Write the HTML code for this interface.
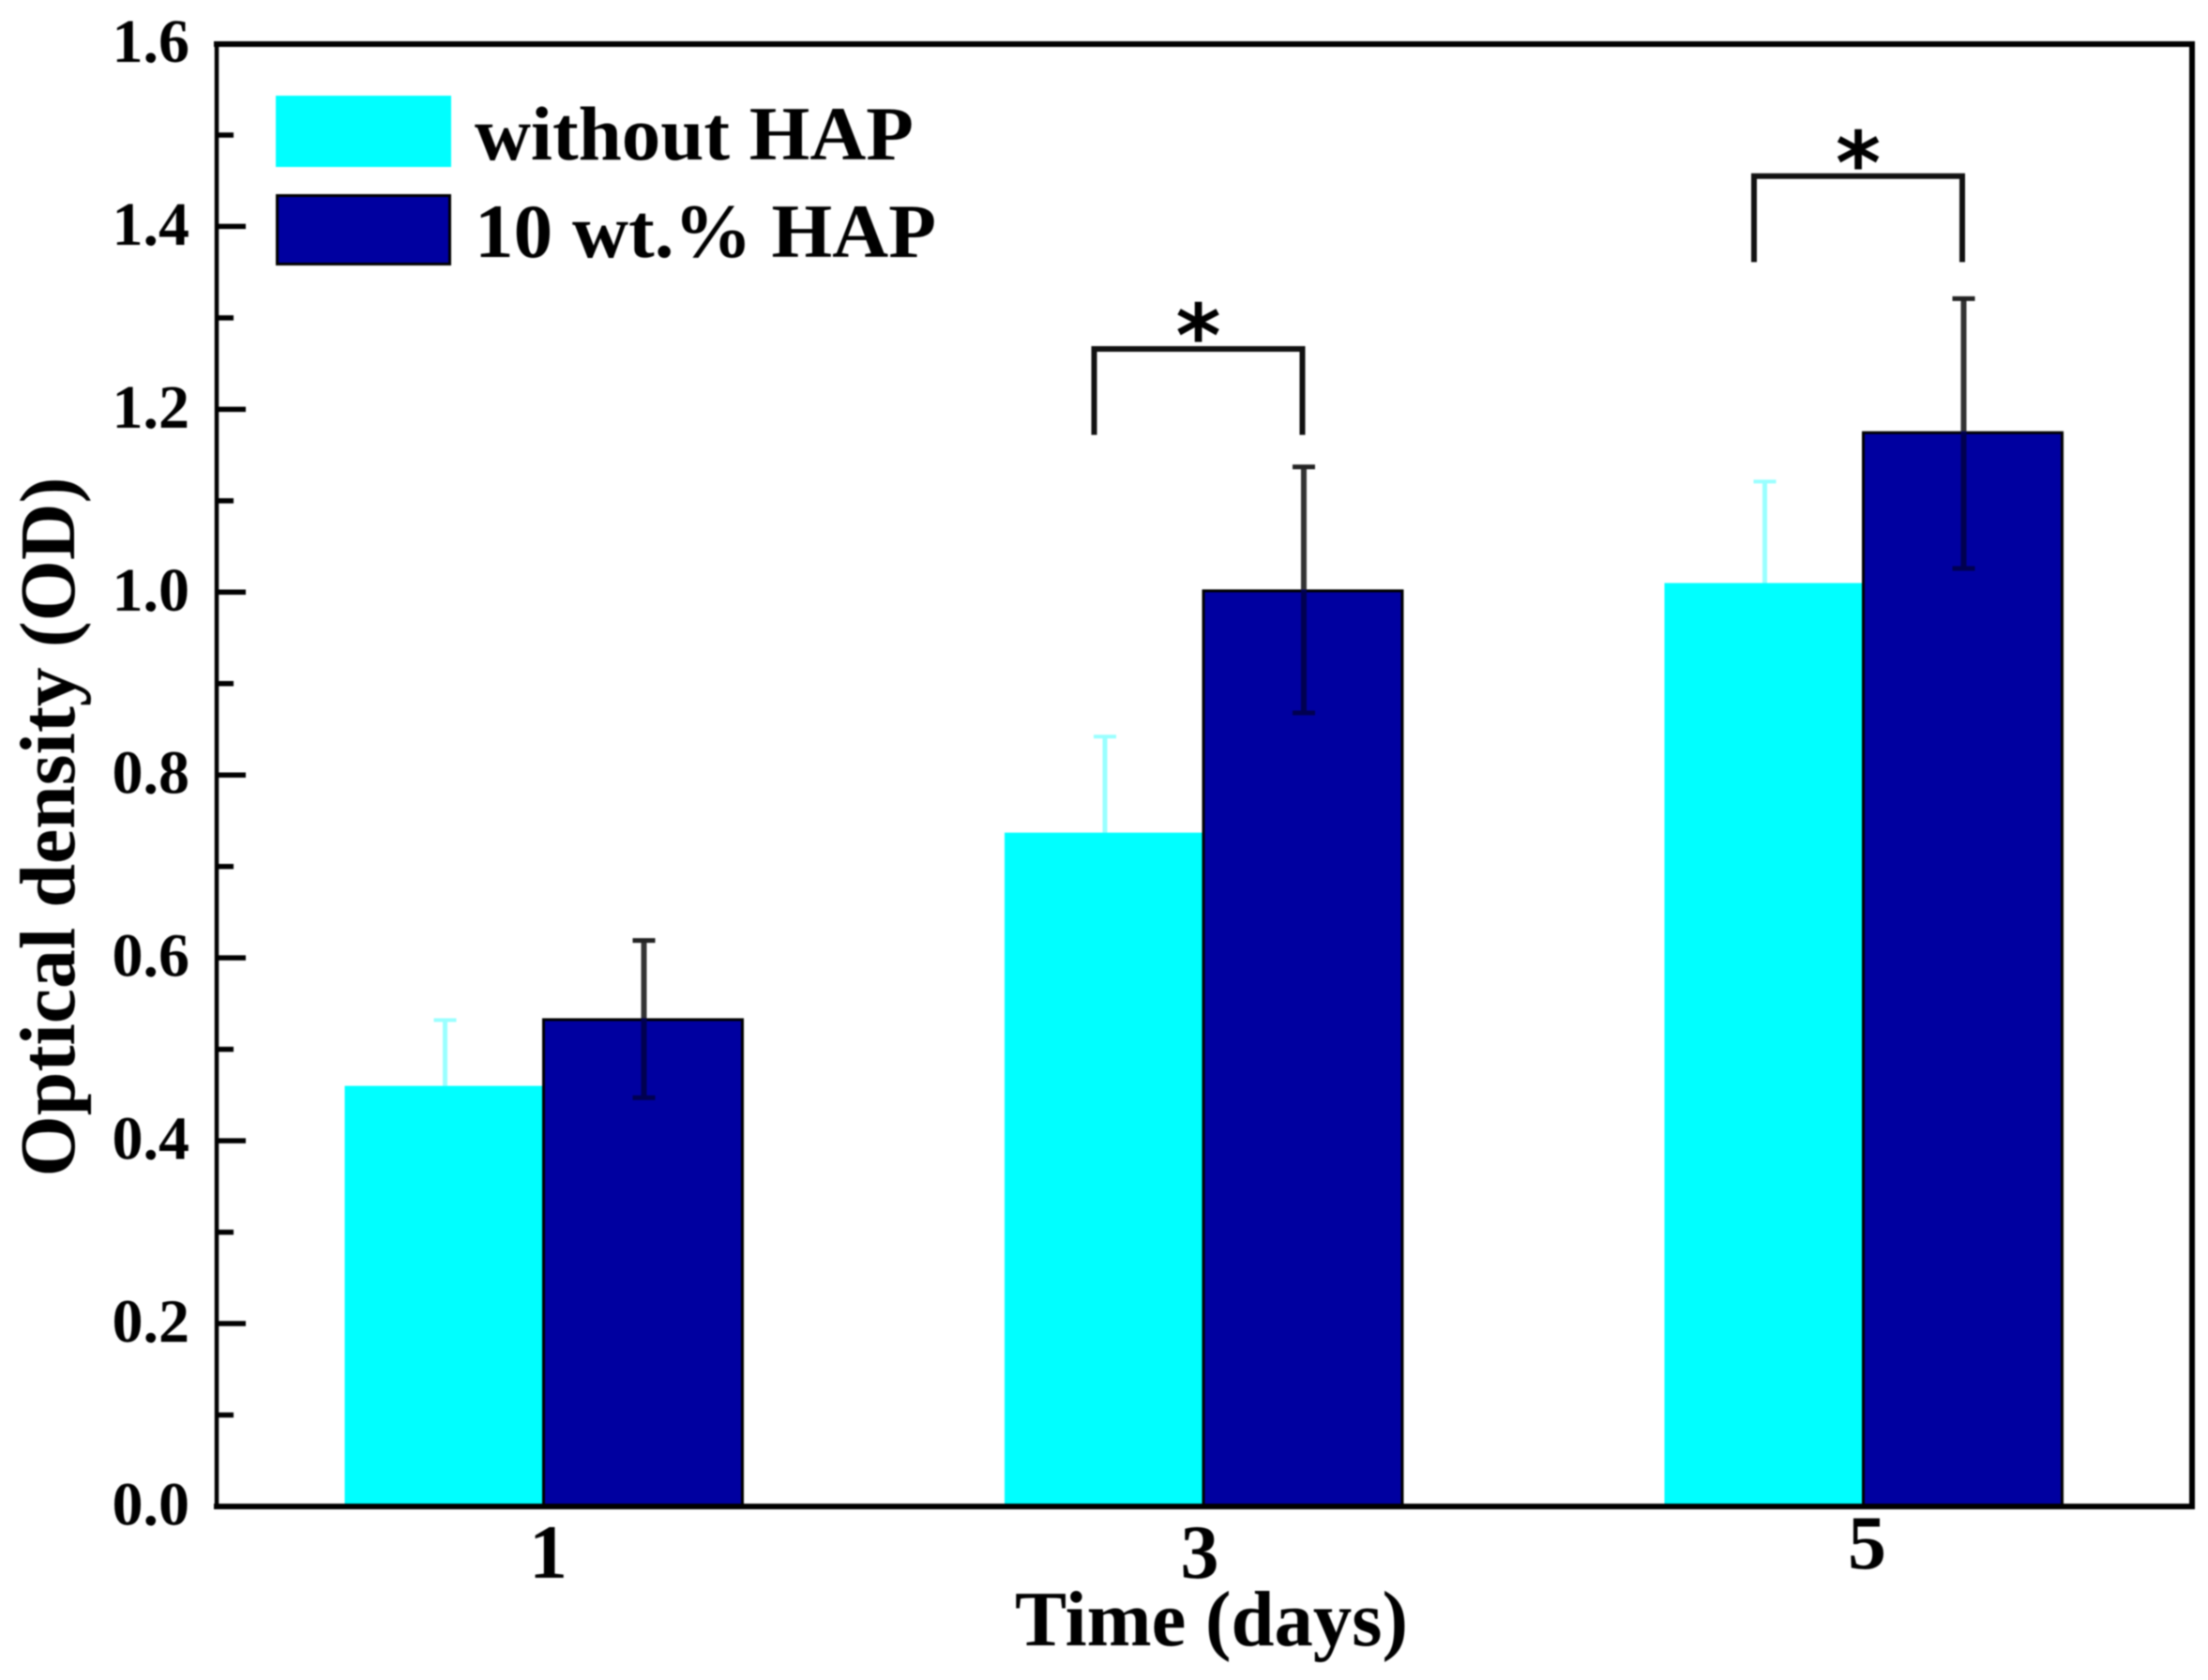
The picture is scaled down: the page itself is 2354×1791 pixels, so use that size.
<!DOCTYPE html>
<html>
<head>
<meta charset="utf-8">
<style>
html,body{margin:0;padding:0;background:#fff;width:2354px;height:1791px;overflow:hidden}
svg{display:block;filter:blur(0.9px)}
text{font-family:"Liberation Serif",serif;font-weight:bold;fill:#000}
</style>
</head>
<body>
<svg id="chart" xmlns="http://www.w3.org/2000/svg" width="2354" height="1791" viewBox="0 0 2354 1791">
  <rect x="0" y="0" width="2354" height="1791" fill="#fff"/>
  <g id="bars"></g>
  <g id="overlay"></g>
  <line x1="228" x2="2340" y1="47" y2="47" stroke="#000" stroke-width="6"/>
  <line x1="2337" x2="2337" y1="47" y2="1609" stroke="#000" stroke-width="6"/>
  <line x1="228" x2="2340" y1="1606" y2="1606" stroke="#000" stroke-width="6"/>
  <line x1="231" x2="231" y1="47" y2="1609" stroke="#000" stroke-width="4.5"/>
  <g id="axes"></g>

  <rect x="294" y="102" width="187" height="76" fill="#00ffff"/>
  <text x="506" y="170" font-size="82" textLength="468" lengthAdjust="spacingAndGlyphs">without HAP</text>
  <rect x="295.5" y="208.5" width="184" height="73" fill="#0000a0" stroke="#000" stroke-width="3"/>
  <text x="506" y="274" font-size="82" textLength="492" lengthAdjust="spacingAndGlyphs">10 wt.% HAP</text>

  <text x="1082" y="1754" font-size="84" textLength="419" lengthAdjust="spacingAndGlyphs">Time (days)</text>
  <text transform="translate(79 1254.5) rotate(-90)" x="0" y="0" font-size="84" textLength="746" lengthAdjust="spacingAndGlyphs">Optical density (OD)</text>
</svg>
<script>
const days = [1, 3, 5];
const dayLabels = ['1', '3', '5'];
const withoutHap = [0.46, 0.737, 1.01];
const tenWtHap = [0.534, 1.003, 1.176];
const withoutHapErrTop = [0.532, 0.842, 1.121];
const tenWtHapErrTop = [0.619, 1.137, 1.321];
const tenWtHapErrBottom = [0.447, 0.868, 1.026];
const majorTicks = [0, 0.2, 0.4, 0.6, 0.8, 1.0, 1.2, 1.4, 1.6];
const majorTickLabels = ['0.0', '0.2', '0.4', '0.6', '0.8', '1.0', '1.2', '1.4', '1.6'];
const minorTicks = [0.1, 0.3, 0.5, 0.7, 0.9, 1.1, 1.3, 1.5];
const significanceDays = [3, 5];
const significanceTop = [1.266, 1.455];
const significanceBottom = [1.172, 1.361];

const NS = 'http://www.w3.org/2000/svg';
const barsLayer = document.getElementById('bars');
const overlayLayer = document.getElementById('overlay');
const axesLayer = document.getElementById('axes');

function yScale(v) { return 1606 - v * 974.7; }
function xScale(d) { return 578.5 + (d - 1) * 351.75; }

function make(parent, tag, attrs, text) {
  const el = document.createElementNS(NS, tag);
  for (const k in attrs) el.setAttribute(k, attrs[k]);
  if (text !== undefined) el.textContent = text;
  parent.appendChild(el);
  return el;
}

const BAR_W_LEFT = 210;
const BAR_W_RIGHT = 214;
const CAP_HALF = 12;

days.forEach(function (d, i) {
  const cx = xScale(d);
  const y1 = yScale(withoutHap[i]);
  const y2 = yScale(tenWtHap[i]);
  const base = yScale(0);

  const cyanStemX = cx - 104;
  const cyanErrY = yScale(withoutHapErrTop[i]);
  const cyanStem = make(barsLayer, 'line', {x1: cyanStemX, x2: cyanStemX, y1: cyanErrY, y2: y1, stroke: '#99ffff', 'stroke-width': 5});
  
  
  const cyanCap = make(barsLayer, 'line', {x1: cyanStemX - CAP_HALF, x2: cyanStemX + CAP_HALF, y1: cyanErrY, y2: cyanErrY, stroke: '#99ffff', 'stroke-width': 4});
  
  

  const cyanBar = make(barsLayer, 'rect', {x: cx - BAR_W_LEFT - 1, y: y1, width: BAR_W_LEFT + 1, height: base - y1, fill: '#00ffff'});
  
  

  const navyBar = make(barsLayer, 'rect', {x: cx + 1, y: y2 + 1.5, width: BAR_W_RIGHT - 2, height: base - y2 - 1.5, fill: '#0000a0', stroke: '#000', 'stroke-width': 3});
  
  

  const navyStemX = cx + 108;
  const topY = yScale(tenWtHapErrTop[i]);
  const botY = yScale(tenWtHapErrBottom[i]);
  const stemTop = make(overlayLayer, 'line', {x1: navyStemX, x2: navyStemX, y1: topY, y2: y2, stroke: '#333', 'stroke-width': 6});
  
  
  const stemBot = make(overlayLayer, 'line', {x1: navyStemX, x2: navyStemX, y1: y2, y2: botY, stroke: '#000050', 'stroke-width': 6});
  
  
  const capTop = make(overlayLayer, 'line', {x1: navyStemX - CAP_HALF, x2: navyStemX + CAP_HALF, y1: topY, y2: topY, stroke: '#222', 'stroke-width': 5});
  
  
  const capBot = make(overlayLayer, 'line', {x1: navyStemX - CAP_HALF, x2: navyStemX + CAP_HALF, y1: botY, y2: botY, stroke: '#000050', 'stroke-width': 5});
  
  
});

significanceDays.forEach(function (d, i) {
  const cx = xScale(d);
  const left = cx - 115.5;
  const right = cx + 106.5;
  const t = yScale(significanceTop[i]);
  const b = yScale(significanceBottom[i]);
  const bracket = make(overlayLayer, 'path', {d: 'M' + left + ' ' + b + 'V' + t + 'H' + right + 'V' + b, fill: 'none', stroke: '#111', 'stroke-width': 6});
  
  
  const star = make(overlayLayer, 'text', {x: (left + right) / 2, y: t + 18, 'font-size': 92, 'text-anchor': 'middle', style: 'font-family:"DejaVu Sans",sans-serif;font-weight:bold'}, '*');
  
  
});

majorTicks.forEach(function (v, i) {
  const y = yScale(v);
  if (i > 0 && i < majorTicks.length - 1) {
    const tick = make(axesLayer, 'line', {x1: 231, x2: 262, y1: y, y2: y, stroke: '#000', 'stroke-width': 5.5});
    
    
  }
  const label = make(axesLayer, 'text', {x: 202, y: y + 19.5, 'font-size': 66, 'text-anchor': 'end'}, majorTickLabels[i]);
  
  
});

minorTicks.forEach(function (v) {
  const y = yScale(v);
  const tick = make(axesLayer, 'line', {x1: 231, x2: 249, y1: y, y2: y, stroke: '#000', 'stroke-width': 5.5});
  
  
});

const xLabelNudgeX = [6, -3, 5];
const xLabelNudgeY = [0, 0, -10];
days.forEach(function (d, i) {
  const label = make(axesLayer, 'text', {x: xScale(d) + xLabelNudgeX[i], y: 1682 + xLabelNudgeY[i], 'font-size': 82, 'text-anchor': 'middle'}, dayLabels[i]);
  
  
});
</script>
</body>
</html>
